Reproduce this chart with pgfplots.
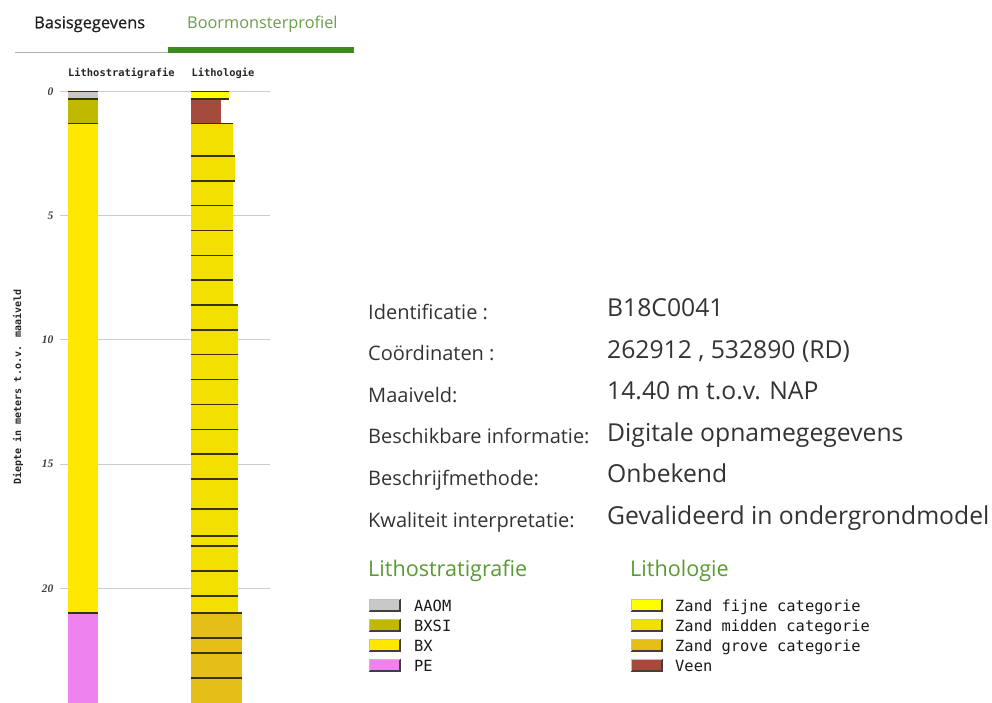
\documentclass[border=0pt]{standalone}
\usepackage{pgfplots}
\pgfplotsset{compat=1.18}
\usepackage{fontspec}
\setmainfont{Open Sans}
\newfontfamily\tabfont[FakeBold=0.7]{Open Sans}
\newfontfamily\mono{DejaVu Sans Mono}
\newfontfamily\tickfont{Liberation Serif}
\definecolor{aaom}{HTML}{C8C8C8}
\definecolor{bxsi}{HTML}{BFB900}
\definecolor{bx}{HTML}{FFE800}
\definecolor{pe}{HTML}{EE82EE}
\definecolor{zfijn}{HTML}{FFFF00}
\definecolor{zmid}{HTML}{F2E100}
\definecolor{zgrof}{HTML}{E5BF18}
\definecolor{veen}{HTML}{A54B3C}
\definecolor{sep}{HTML}{3A3300}
\definecolor{hgreen}{HTML}{5A9A32}
\definecolor{tabgreen}{HTML}{6B9E4A}
\definecolor{bargreen}{HTML}{3D8B1F}
\definecolor{txt}{HTML}{333333}
% layer: x0, x1, top, bottom, colour
\newcommand{\fillL}[5]{\addplot[draw=none, fill=#5] coordinates {(#1,#3) (#2,#3) (#2,#4) (#1,#4)};}
\newcommand{\lineL}[5]{\addplot[sep, line width=1.5pt] coordinates {(#1,#3) (#2,#3)};
  \addplot[sep, line width=1.5pt] coordinates {(#1,#4) (#2,#4)};}
\newcommand{\strat}{%
  \L{68}{97.5}{0}{0.3}{aaom}
  \L{68}{97.5}{0.3}{1.3}{bxsi}
  \L{68}{97.5}{1.3}{21.0}{bx}
  \L{68}{97.5}{21.0}{24.8}{pe}
}
\newcommand{\litho}{%
  \L{191}{229.3}{0}{0.3}{zfijn}
  \L{191}{220.7}{0.3}{1.3}{veen}
  \L{191}{232.7}{1.3}{2.6}{zmid}
  \L{191}{235.3}{2.6}{3.6}{zmid}
  \L{191}{232.7}{3.6}{4.6}{zmid}
  \L{191}{232.7}{4.6}{5.6}{zmid}
  \L{191}{232.7}{5.6}{6.6}{zmid}
  \L{191}{232.7}{6.6}{7.6}{zmid}
  \L{191}{232.7}{7.6}{8.6}{zmid}
  \L{191}{238.3}{8.6}{9.6}{zmid}
  \L{191}{238.3}{9.6}{10.6}{zmid}
  \L{191}{238.3}{10.6}{11.6}{zmid}
  \L{191}{238.3}{11.6}{12.6}{zmid}
  \L{191}{238.3}{12.6}{13.6}{zmid}
  \L{191}{238.3}{13.6}{14.6}{zmid}
  \L{191}{238.3}{14.6}{15.6}{zmid}
  \L{191}{238.3}{15.6}{16.8}{zmid}
  \L{191}{238.3}{16.8}{17.9}{zmid}
  \L{191}{238.3}{17.9}{18.3}{zmid}
  \L{191}{238.3}{18.3}{19.3}{zmid}
  \L{191}{238.3}{19.3}{20.3}{zmid}
  \L{191}{238.3}{20.3}{21.0}{zmid}
  \L{191}{242}{21.0}{22.0}{zgrof}
  \L{191}{242}{22.0}{22.6}{zgrof}
  \L{191}{242}{22.6}{23.6}{zgrof}
  \L{191}{242}{23.6}{24.8}{zgrof}
}
\newcommand{\swatch}[3]{% x, ytop, colour
  \fill[#3] (#1pt,-#2pt) rectangle ++(31pt,-12pt);
  \draw[black!75, line width=1.6pt] (#1pt,-#2pt-12pt) -- ++(31pt,0) -- ++(0,12pt);
  \draw[black!25, line width=0.6pt] (#1pt,-#2pt-12pt) -- ++(0,12pt) -- ++(31pt,0);
}
\begin{document}
\begin{tikzpicture}
\useasboundingbox (0,0) rectangle (992pt,-702pt);
% tabs
\node[anchor=base west, inner sep=0pt, text=black!88, font=\tabfont\fontsize{16.4}{18}\selectfont] at (34pt,-28.3pt) {Basisgegevens};
\node[anchor=base west, inner sep=0pt, text=tabgreen, font=\fontsize{16.3}{18}\selectfont] at (187pt,-28.3pt) {Boormonsterprofiel};
\draw[black!30, line width=1pt] (15pt,-52.8pt) -- (168pt,-52.8pt);
\fill[bargreen] (167.7pt,-46.7pt) rectangle (354.3pt,-52.5pt);
% column headers
\node[anchor=base west, inner sep=0pt, font=\mono\bfseries\fontsize{10.4}{12}\selectfont, text=black!85] at (68pt,-76.5pt) {Lithostratigrafie};
\node[anchor=base west, inner sep=0pt, font=\mono\bfseries\fontsize{10.4}{12}\selectfont, text=black!85] at (191.5pt,-76.5pt) {Lithologie};
\node[rotate=90, inner sep=0pt, font=\mono\bfseries\fontsize{10}{11}\selectfont, text=black!85] at (18pt,-387pt) {Diepte in meters t.o.v. maaiveld};
\begin{axis}[
  at={(60pt,-91.3pt)}, anchor=north west,
  scale only axis, width=210pt, height=610.7pt,
  xmin=60, xmax=270, ymin=0, ymax=24.575,
  y dir=reverse, clip=false,
  axis line style={draw=none},
  major tick style={draw=none},
  xtick=\empty,
  ytick={0,5,10,15,20},
  ymajorgrids,
  grid style={draw=black!20, line width=1pt},
  yticklabel style={anchor=east, inner sep=0pt, xshift=-6.5pt, text=black!75,
     font=\tickfont\bfseries\itshape\fontsize{11.5}{12}\selectfont},
  /pgf/number format/assume math mode=true,
]
\let\L\fillL \strat \litho
\let\L\lineL \strat \litho
\end{axis}
% info
\begin{scope}[every node/.style={anchor=base west, inner sep=0pt, text=txt}]
\node[font=\fontsize{20}{22}\selectfont] at (368pt,-319pt) {Identificatie :};
\node[font=\fontsize{20}{22}\selectfont] at (368pt,-360.6pt) {Coördinaten :};
\node[font=\fontsize{20}{22}\selectfont] at (368pt,-402.2pt) {Maaiveld:};
\node[font=\fontsize{20}{22}\selectfont] at (368pt,-443.8pt) {Beschikbare informatie:};
\node[font=\fontsize{20}{22}\selectfont] at (368pt,-485.4pt) {Beschrijfmethode:};
\node[font=\fontsize{20}{22}\selectfont] at (368pt,-527pt) {Kwaliteit interpretatie:};
\node[font=\fontsize{24.7}{26}\selectfont] at (607pt,-316.5pt) {B18C0041};
\node[font=\fontsize{24.7}{26}\selectfont] at (607pt,-358pt) {262912 , 532890 (RD)};
\node[font=\fontsize{24.7}{26}\selectfont] at (607pt,-399.6pt) {14.40 m t.o.v. NAP};
\node[font=\fontsize{24.7}{26}\selectfont] at (607pt,-441.2pt) {Digitale opnamegegevens};
\node[font=\fontsize{24.7}{26}\selectfont] at (607pt,-482.8pt) {Onbekend};
\node[font=\fontsize{24.7}{26}\selectfont] at (607pt,-524.4pt) {Gevalideerd in ondergrondmodel};
\node[font=\fontsize{21.6}{24}\selectfont, text=hgreen] at (368pt,-576pt) {Lithostratigrafie};
\node[font=\fontsize{21.6}{24}\selectfont, text=hgreen] at (630pt,-576pt) {Lithologie};
\node[font=\mono\fontsize{15.4}{17}\selectfont, text=black!90] at (414pt,-611pt) {AAOM};
\node[font=\mono\fontsize{15.4}{17}\selectfont, text=black!90] at (414pt,-631pt) {BXSI};
\node[font=\mono\fontsize{15.4}{17}\selectfont, text=black!90] at (414pt,-651pt) {BX};
\node[font=\mono\fontsize{15.4}{17}\selectfont, text=black!90] at (414pt,-671pt) {PE};
\node[font=\mono\fontsize{15.4}{17}\selectfont, text=black!90] at (675pt,-611pt) {Zand fijne categorie};
\node[font=\mono\fontsize{15.4}{17}\selectfont, text=black!90] at (675pt,-631pt) {Zand midden categorie};
\node[font=\mono\fontsize{15.4}{17}\selectfont, text=black!90] at (675pt,-651pt) {Zand grove categorie};
\node[font=\mono\fontsize{15.4}{17}\selectfont, text=black!90] at (675pt,-671pt) {Veen};
\end{scope}
\swatch{369}{599}{aaom}
\swatch{369}{619}{bxsi}
\swatch{369}{639}{bx}
\swatch{369}{659}{pe}
\swatch{631}{599}{zfijn}
\swatch{631}{619}{zmid}
\swatch{631}{639}{zgrof}
\swatch{631}{659}{veen}
\end{tikzpicture}
\end{document}
